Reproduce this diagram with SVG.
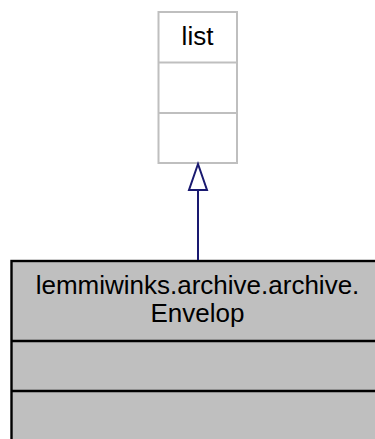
<svg xmlns="http://www.w3.org/2000/svg" width="375" height="439" viewBox="0 0 375 439">
<style>
.t{font-family:"Liberation Sans",Arial,sans-serif;font-size:26px;fill:#000;text-anchor:middle}
.base{fill:#fff;stroke:#bfbfbf;stroke-width:2}
.cls{fill:#bfbfbf;stroke:#000;stroke-width:2.4}
.edge{stroke:#191970;stroke-width:2;fill:none}
</style>
<rect width="375" height="439" fill="#fff"/>
<g id="node-list">
<rect class="base" x="158.5" y="12" width="78.5" height="151"/>
<line class="base" x1="158.5" y1="62.5" x2="237" y2="62.5"/>
<line class="base" x1="158.5" y1="113" x2="237" y2="113"/>
<text class="t" x="197.5" y="45">list</text>
</g>
<g id="node-envelop">
<rect class="cls" x="11.5" y="261" width="374" height="190"/>
<line class="cls" x1="11.5" y1="341" x2="385" y2="341"/>
<line class="cls" x1="11.5" y1="391" x2="385" y2="391"/>
<text class="t" x="197.5" y="294">lemmiwinks.archive.archive.</text>
<text class="t" x="197.5" y="322">Envelop</text>
</g>
<g id="connectors">
<line class="edge" x1="198" y1="190" x2="198" y2="260"/>
<polygon class="edge" fill="#fff" points="198,164 189,190 207,190" style="fill:#fff"/>
</g>
</svg>
